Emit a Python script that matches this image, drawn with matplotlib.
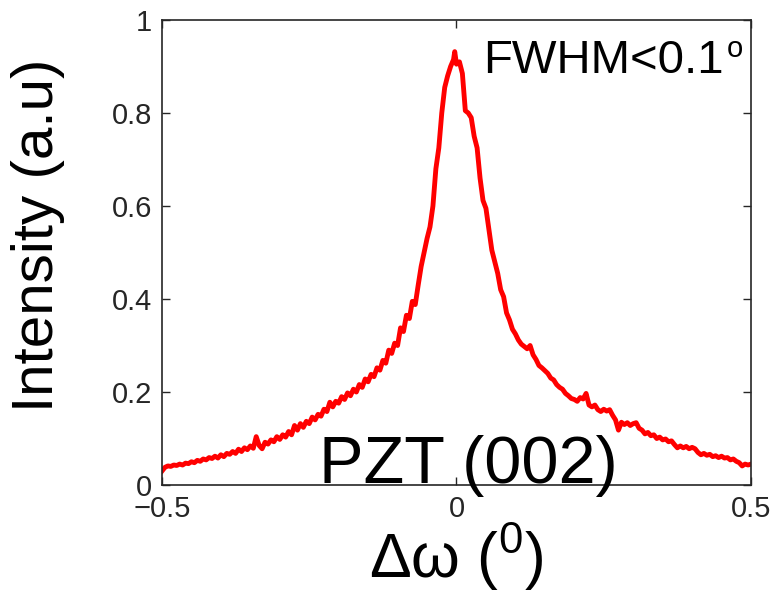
import numpy as np
import matplotlib
matplotlib.use("Agg")
import matplotlib.pyplot as plt

# ---------------------- data ----------------------
omega = [
    -0.500, -0.495, -0.490, -0.485, -0.480, -0.475, -0.470, -0.465, -0.460, -0.455,
    -0.450, -0.445, -0.440, -0.435, -0.430, -0.425, -0.420, -0.415, -0.410, -0.405,
    -0.400, -0.395, -0.390, -0.385, -0.380, -0.375, -0.370, -0.365, -0.360, -0.355,
    -0.350, -0.345, -0.340, -0.335, -0.330, -0.325, -0.320, -0.315, -0.310, -0.305,
    -0.300, -0.295, -0.290, -0.285, -0.280, -0.275, -0.270, -0.265, -0.260, -0.255,
    -0.250, -0.245, -0.240, -0.235, -0.230, -0.225, -0.220, -0.215, -0.210, -0.205,
    -0.200, -0.195, -0.190, -0.185, -0.180, -0.175, -0.170, -0.165, -0.160, -0.155,
    -0.150, -0.145, -0.140, -0.135, -0.130, -0.125, -0.120, -0.115, -0.110, -0.105,
    -0.100, -0.095, -0.090, -0.085, -0.080, -0.075, -0.070, -0.065, -0.060, -0.055,
    -0.050, -0.045, -0.040, -0.035, -0.030, -0.025, -0.020, -0.015, -0.010, -0.005,
    -0.003, 0.000, 0.005, 0.010, 0.015, 0.020, 0.025, 0.030, 0.035, 0.040,
    0.045, 0.050, 0.055, 0.060, 0.065, 0.070, 0.075, 0.080, 0.085, 0.090,
    0.095, 0.100, 0.105, 0.110, 0.115, 0.120, 0.125, 0.130, 0.135, 0.140,
    0.145, 0.150, 0.155, 0.160, 0.165, 0.170, 0.175, 0.180, 0.185, 0.190,
    0.195, 0.200, 0.205, 0.210, 0.215, 0.220, 0.225, 0.230, 0.235, 0.240,
    0.245, 0.250, 0.255, 0.260, 0.265, 0.270, 0.275, 0.280, 0.285, 0.290,
    0.295, 0.300, 0.305, 0.310, 0.315, 0.320, 0.325, 0.330, 0.335, 0.340,
    0.345, 0.350, 0.355, 0.360, 0.365, 0.370, 0.375, 0.380, 0.385, 0.390,
    0.395, 0.400, 0.405, 0.410, 0.415, 0.420, 0.425, 0.430, 0.435, 0.440,
    0.445, 0.450, 0.455, 0.460, 0.465, 0.470, 0.475, 0.480, 0.485, 0.490,
    0.495, 0.500,
]
intensity = [
    0.030, 0.038, 0.041, 0.040, 0.043, 0.042, 0.045, 0.043, 0.047, 0.046,
    0.050, 0.048, 0.053, 0.051, 0.056, 0.054, 0.059, 0.057, 0.062, 0.058,
    0.065, 0.061, 0.068, 0.066, 0.072, 0.068, 0.077, 0.072, 0.080, 0.076,
    0.084, 0.079, 0.104, 0.085, 0.078, 0.092, 0.088, 0.097, 0.093, 0.104,
    0.098, 0.108, 0.103, 0.115, 0.108, 0.128, 0.118, 0.132, 0.124, 0.137,
    0.132, 0.146, 0.140, 0.152, 0.148, 0.163, 0.158, 0.178, 0.168, 0.180,
    0.176, 0.190, 0.184, 0.198, 0.192, 0.206, 0.200, 0.216, 0.210, 0.228,
    0.222, 0.238, 0.233, 0.252, 0.247, 0.268, 0.262, 0.290, 0.283, 0.305,
    0.300, 0.338, 0.330, 0.365, 0.358, 0.395, 0.388, 0.430, 0.470, 0.500,
    0.530, 0.555, 0.600, 0.680, 0.725, 0.800, 0.855, 0.880, 0.900, 0.915,
    0.932, 0.905, 0.910, 0.885, 0.805, 0.800, 0.790, 0.750, 0.725, 0.660,
    0.612, 0.595, 0.550, 0.505, 0.480, 0.455, 0.420, 0.405, 0.370, 0.355,
    0.335, 0.325, 0.312, 0.303, 0.298, 0.293, 0.300, 0.280, 0.270, 0.257,
    0.252, 0.246, 0.240, 0.230, 0.226, 0.216, 0.210, 0.206, 0.197, 0.192,
    0.186, 0.184, 0.180, 0.188, 0.185, 0.197, 0.172, 0.168, 0.172, 0.162,
    0.158, 0.163, 0.159, 0.162, 0.150, 0.140, 0.118, 0.135, 0.130, 0.134,
    0.128, 0.132, 0.134, 0.122, 0.118, 0.110, 0.113, 0.106, 0.108, 0.100,
    0.103, 0.097, 0.099, 0.093, 0.095, 0.087, 0.080, 0.084, 0.080, 0.083,
    0.078, 0.081, 0.078, 0.070, 0.065, 0.068, 0.064, 0.066, 0.061, 0.063,
    0.059, 0.062, 0.058, 0.059, 0.054, 0.056, 0.051, 0.048, 0.041, 0.045,
    0.043, 0.045,
]

x_ticks = [-0.5, 0, 0.5]
x_tick_labels = ["\u22120.5", "0", "0.5"]
y_ticks = [0, 0.2, 0.4, 0.6, 0.8, 1]
y_tick_labels = ["0", "0.2", "0.4", "0.6", "0.8", "1"]

# ---------------------- style ----------------------
plt.rcParams["font.family"] = ["Liberation Sans", "DejaVu Sans"]
plt.rcParams["mathtext.fontset"] = "custom"
plt.rcParams["mathtext.rm"] = "Liberation Sans"
plt.rcParams["mathtext.it"] = "Liberation Sans"
plt.rcParams["mathtext.default"] = "regular"

fig = plt.figure(figsize=(7.78, 5.99), dpi=100)
ax = fig.add_axes([0.2082, 0.1903, 0.7571, 0.7763])

ax.plot(omega, intensity, color="#ff0000", linewidth=3.5)

ax.set_xlim(-0.5, 0.5)
ax.set_ylim(0, 1)
ax.set_xticks(x_ticks)
ax.set_xticklabels(x_tick_labels)
ax.set_yticks(y_ticks)
ax.set_yticklabels(y_tick_labels)
ax.tick_params(direction="in", length=6, width=1, top=True, right=True,
               labelsize=21, colors="#262626", pad=7)
for sp in ax.spines.values():
    sp.set_linewidth(1.2)
    sp.set_color("#262626")

# annotations inside the box
ax.text(0.0195, 0.004, "PZT (002)", fontsize=48, ha="center", va="baseline",
        color="black")
ax.text(0.045, 0.886, "FWHM<0.1", fontsize=34, ha="left", va="baseline",
        color="black")
# small raised "o" (degree-like) after the FWHM value
ax.text(0.458, 0.921, "o", fontsize=21, ha="left", va="baseline", color="black")

# axis labels placed in figure coords
fig.text(38 / 778, 1 - 235 / 599, "Intensity (a.u)", rotation=90, fontsize=42,
         ha="center", va="center", color="black")
fig.text(456 / 778, 1 - 557 / 599, "\u0394\u03c9 (${}^{0}$)", fontsize=45,
         ha="center", va="center", color="black")

plt.savefig("out.png", dpi=100)
plt.close()
